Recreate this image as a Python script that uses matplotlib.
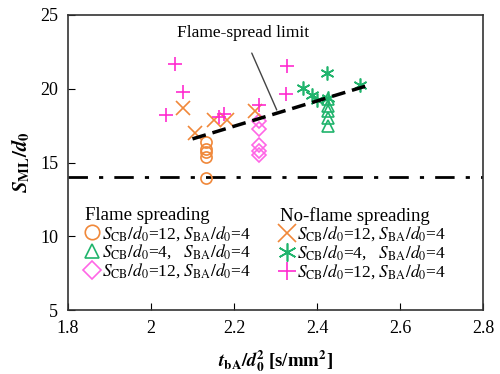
import matplotlib
matplotlib.use("Agg")
import matplotlib.pyplot as plt

plt.rcParams['font.family'] = ['Liberation Serif', 'DejaVu Serif']
plt.rcParams['mathtext.fontset'] = 'stix'

# Flame spreading
circ_x = [2.133, 2.133, 2.133, 2.133, 2.133]
circ_y = [16.4, 15.9, 15.7, 15.4, 13.95]
tri_x = [2.427, 2.427, 2.427, 2.427, 2.427]
tri_y = [19.3, 18.8, 18.5, 18.0, 17.5]
dia_x = [2.261, 2.261, 2.261, 2.261, 2.261]
dia_y = [17.8, 17.3, 16.2, 15.8, 15.5]

# No-flame spreading
cross_x = [2.078, 2.106, 2.153, 2.183, 2.251]
cross_y = [18.7, 17.0, 17.9, 17.85, 18.5]
ast_x = [2.367, 2.387, 2.399, 2.423, 2.427, 2.504]
ast_y = [20.05, 19.6, 19.25, 21.05, 19.4, 20.25]
plus_x = [2.058, 2.076, 2.036, 2.165, 2.175, 2.261, 2.328, 2.326]
plus_y = [21.7, 19.8, 18.2, 18.1, 18.3, 18.9, 21.55, 19.65]

limit_x = [2.10, 2.52]
limit_y = [16.6, 20.2]
min_level = 14

orange = '#F0883A'
green = '#20B46C'
pink = '#FF2BD0'
pink2 = '#FF66E6'

fig = plt.figure(figsize=(5, 3.74), dpi=100)
ax = fig.add_axes([0.136, 0.171, 0.83, 0.789])

h1, = ax.plot(circ_x, circ_y, 'o', mfc='none', mec=orange, ms=8, mew=1.2, ls='none')
h2, = ax.plot(tri_x, tri_y, '^', mfc='none', mec=green, ms=8, mew=1.2, ls='none')
h3, = ax.plot(dia_x, dia_y, 'D', mfc='none', mec=pink2, ms=7, mew=1.2, ls='none')
h4, = ax.plot(cross_x, cross_y, 'x', color=orange, ms=10, mew=1.2, ls='none')
h5, = ax.plot(ast_x, ast_y, marker=(6, 2, 0), color=green, ms=10, mew=1.2, ls='none')
h6, = ax.plot(plus_x, plus_y, '+', color=pink, ms=10, mew=1.2, ls='none')

ax.plot(limit_x, limit_y, color='black', lw=2.5, dashes=(4, 2), zorder=5)
ax.axhline(min_level, color='black', lw=2, dashes=(7, 4, 1.5, 4), zorder=1)

ax.annotate('Flame-spread limit', xy=(2.303, 18.56), xytext=(2.222, 23.75),
            ha='center', va='center', fontsize=12.5,
            arrowprops=dict(arrowstyle='-', color='#444444', lw=1,
                            shrinkA=7, shrinkB=0))

ax.set_xlim(1.8, 2.8)
ax.set_ylim(5, 25)
ax.set_xticks([1.8, 2.0, 2.2, 2.4, 2.6, 2.8])
ax.set_xticklabels(['1.8', '2', '2.2', '2.4', '2.6', '2.8'])
ax.set_yticks([5, 10, 15, 20, 25])
ax.tick_params(direction='in', length=5, labelsize=13, pad=7)
for s in ax.spines.values():
    s.set_linewidth(1.2)
    s.set_color('#333333')

ax.set_xlabel(r'$\mathbfit{t}_{\mathbf{bA}}\mathbf{/}\mathbfit{d}_{\mathbf{0}}^{\mathbf{2}}$ [s/mm$^{\mathbf{2}}$]',
              fontsize=13.5, fontweight='bold', labelpad=8)
ax.set_ylabel(r'$\mathbfit{S}_{\mathbf{ML}}\mathbf{/}\mathbfit{d}_{\mathbf{0}}$',
              fontsize=15, labelpad=6)

lab12 = r'$S_{\mathrm{CB}}/d_0$=12, $S_{\mathrm{BA}}/d_0$=4'
lab4 = r'$S_{\mathrm{CB}}/d_0$=4,   $S_{\mathrm{BA}}/d_0$=4'

kw = dict(frameon=False, fontsize=12.5, title_fontsize=13.5, handlelength=0.85,
          handletextpad=0.15, labelspacing=0.0, borderpad=0, borderaxespad=0,
          alignment='left', markerscale=1.3)
leg1 = ax.legend([h1, h2, h3], [lab12, lab4, lab12], title='Flame spreading',
                 loc='upper left', bbox_to_anchor=(0.04, 0.35), **kw)
ax.add_artist(leg1)
ax.legend([h4, h5, h6], [lab12, lab4, lab12], title='No-flame spreading',
          loc='upper left', bbox_to_anchor=(0.51, 0.35), **kw)

fig.savefig('out.png', dpi=100)
